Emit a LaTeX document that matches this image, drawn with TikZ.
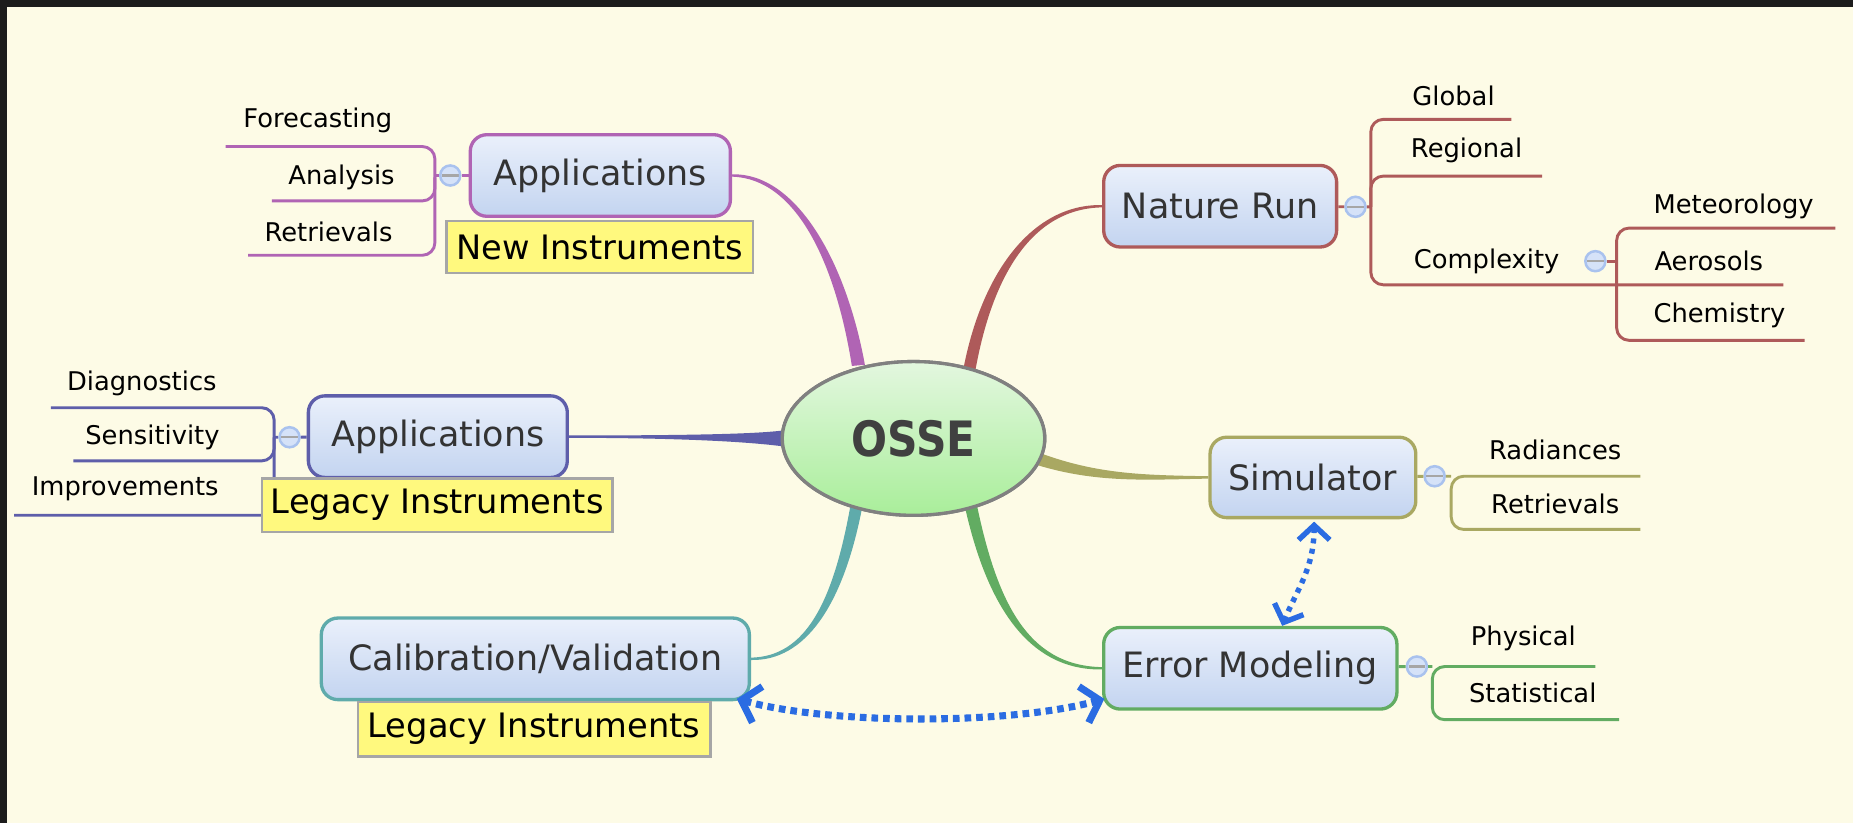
\documentclass[tikz,border=0pt]{standalone}
\usepackage{fontspec}
\usepackage{graphicx}
\setmainfont{DejaVu Sans}
\usetikzlibrary{calc,arrows.meta,shapes.geometric}
\definecolor{bg}{HTML}{FDFBE6}
\definecolor{darkframe}{HTML}{1C1C1C}
\definecolor{cpurple}{HTML}{B064B4}
\definecolor{cindigo}{HTML}{5E5EAA}
\definecolor{cred}{HTML}{AE5A5A}
\definecolor{colive}{HTML}{A9A862}
\definecolor{cgreen}{HTML}{62AC62}
\definecolor{cteal}{HTML}{5FABAB}
\definecolor{nodetop}{HTML}{EAF0FB}
\definecolor{nodebot}{HTML}{C3D4F0}
\definecolor{notefill}{HTML}{FFF97E}
\definecolor{arrowblue}{HTML}{2B6CE2}
\definecolor{circfill}{HTML}{D5E2F8}
\definecolor{circdraw}{HTML}{A9C2EE}
\definecolor{osetop}{HTML}{E3F7DF}
\definecolor{osebot}{HTML}{A9EE9A}
\tikzset{
  mnode/.style={rounded corners=4pt, top color=nodetop, bottom color=nodebot, line width=0.8pt,
    inner sep=0pt, font=\fontsize{8.4}{10}\selectfont, text=black!80},
  osseshape/.style={ellipse, minimum width=2.22cm, minimum height=1.30cm, inner sep=0pt, top color=osetop,
    bottom color=osebot, draw=black!50, line width=0.8pt, font=\fontsize{10.2}{12}\selectfont\bfseries, text=black!75},
  notebox/.style={fill=notefill, draw=black!35, line width=0.6pt, inner sep=0pt,
    font=\fontsize{8.1}{10}\selectfont},
  leaf/.style={font=\fontsize{6.2}{8}\selectfont, inner sep=0pt},
  fold/.style={circle, minimum size=0.17cm, inner sep=0pt, fill=circfill, draw=circdraw, line width=0.6pt,
    path picture={\draw[black!35, line width=0.5pt] ([xshift=-2pt]path picture bounding box.center) -- ([xshift=2pt]path picture bounding box.center);}},
  branch/.style={line width=0.7pt, rounded corners=3pt},
  foldlink/.style={line width=0.7pt},
  linksmall/.style={arrowblue, line width=1.3pt, dash pattern=on 1.2pt off 1.3pt,
    {Straight Barb[length=3.5pt,width=7.5pt]}-{Straight Barb[length=3.5pt,width=7.5pt]}},
  linkbig/.style={arrowblue, line width=1.7pt, dash pattern=on 1.6pt off 1.2pt,
    {Straight Barb[length=4pt,width=9pt]}-{Straight Barb[length=4pt,width=9pt]}}
}
\begin{document}
\begin{tikzpicture}[x=0.01cm, y=0.01cm]
\useasboundingbox (0,0) rectangle (1568,-696.4);
\fill[bg] (0,0) rectangle (1568,-696.4);
\fill[darkframe] (0,0) rectangle (1568,-6);
\fill[darkframe] (0,0) rectangle (6,-696.4);

% central node and main nodes
\node[osseshape] (osse) at (773,-371) {\scalebox{1}[1.15]{OSSE}};
\node[mnode, draw=cpurple, minimum width=2.2cm, minimum height=0.69cm] (app1) at (508,-148.5) {Applications};
\node[mnode, draw=cindigo, minimum width=2.19cm, minimum height=0.69cm] (app2) at (370.5,-369.5) {Applications};
\node[mnode, draw=cred, minimum width=1.97cm, minimum height=0.69cm] (nature) at (1032.5,-174.5) {Nature Run};
\node[mnode, draw=colive, minimum width=1.74cm, minimum height=0.68cm] (sim) at (1111,-404) {Simulator};
\node[mnode, draw=cgreen, minimum width=2.48cm, minimum height=0.69cm] (err) at (1058,-565.5) {Error Modeling};
\node[mnode, draw=cteal, minimum width=3.62cm, minimum height=0.69cm] (cal) at (453,-557.5) {Calibration/Validation};

% tapered connectors
\fill[cpurple] ($(app1.east)+(0,1)$) .. controls +(54,1.5) and +(-16,88) .. ($(osse.128)+(6,2)$)
  -- ($(osse.128)+(-5,1)$) .. controls +(-14,88) and +(54,-1.5) .. ($(app1.east)+(0,-1)$) -- cycle;
\fill[cred] ($(osse.52)+(5,-4)$) .. controls +(14.5,82) and +(-59,-1) .. ($(nature.west)+(0,-1)$)
  -- ($(nature.west)+(0,1)$) .. controls +(-59,1) and +(15.5,82) .. ($(osse.52)+(-5,-2)$) -- cycle;
\fill[cindigo] ($(app2.east)+(0,1)$) .. controls +(110,0) and +(-21,-3) .. ($(osse.180)+(4,7)$)
  -- ($(osse.180)+(4,-7)$) .. controls +(-21,3) and +(110,0) .. ($(app2.east)+(0,-1)$) -- cycle;
\fill[colive] ($(osse.351)+(-5,-5)$) .. controls +(50.5,-15.6) and +(-54,-1) .. ($(sim.west)+(0,-1)$)
  -- ($(sim.west)+(0,1)$) .. controls +(-54,1) and +(49.5,-18.4) .. ($(osse.351)+(-2,5)$) -- cycle;
\fill[cgreen] ($(osse.309)+(-5,2)$) .. controls +(17.9,-80.2) and +(-64,-1) .. ($(err.west)+(0,-1)$)
  -- ($(err.west)+(0,1)$) .. controls +(-64,1) and +(16.9,-80.4) .. ($(osse.309)+(5,4)$) -- cycle;
\fill[cteal] ($(osse.231)+(-5,2)$) .. controls +(-14.8,-81.4) and +(46,1) .. ($(cal.east)+(0,1)$)
  -- ($(cal.east)+(0,-1)$) .. controls +(46,-1) and +(-16,-82.2) .. ($(osse.231)+(5,1)$) -- cycle;

% redraw central node over connector ends
\node[osseshape] at (osse.center) {\scalebox{1}[1.15]{OSSE}};

% leaves
\node[leaf] (fore) at (269,-102) {Forecasting};
\node[leaf] (anal) at (289,-150) {Analysis};
\node[leaf] (retr1) at (278,-196) {Retrievals};
\node[leaf] (diag) at (120,-324) {Diagnostics};
\node[leaf] (sens) at (129,-370) {Sensitivity};
\node[leaf] (impr) at (106,-414) {Improvements};
\node[leaf] (glob) at (1230,-81) {Global};
\node[leaf] (regi) at (1241,-127) {Regional};
\node[leaf] (comp) at (1258,-221) {Complexity};
\node[leaf] (mete) at (1467,-175) {Meteorology};
\node[leaf] (aero) at (1446,-221) {Aerosols};
\node[leaf] (chem) at (1455,-267) {Chemistry};
\node[leaf] (radi) at (1316,-381) {Radiances};
\node[leaf] (retr2) at (1316,-426) {Retrievals};
\node[leaf] (phys) at (1289,-540) {Physical};
\node[leaf] (stat) at (1297,-586) {Statistical};

% bracket joints
\coordinate (k1) at (368,-148.5);
\coordinate (k2) at (232,-370);
\coordinate (k3) at (1160,-175);
\coordinate (k4) at (1368,-221);
\coordinate (k5) at (1228,-403);
\coordinate (k6) at (1212,-564);

% branch lines
\draw[branch, cpurple] (191,-124) -- (368,-124) -- (368,-216) -- (210,-216);
\draw[branch, cpurple] (230,-170) -- (368,-170) -- (368,-150);
\draw[branch, cindigo] (43,-345) -- (232,-345) -- (232,-436) -- (12,-436);
\draw[branch, cindigo] (62,-390) -- (232,-390) -- (232,-370);
\draw[branch, cred] (1279,-101) -- (1160,-101) -- (1160,-241) -- (1509,-241);
\draw[branch, cred] (1305,-149) -- (1160,-149) -- (1160,-175);
\draw[branch, cred] (1553,-193) -- (1368,-193) -- (1368,-288) -- (1527,-288);
\draw[branch, colive] (1388,-403) -- (1228,-403) -- (1228,-448) -- (1388,-448);
\draw[branch, cgreen] (1350,-564) -- (1212,-564) -- (1212,-609) -- (1370,-609);

% notes
\node[notebox, minimum width=2.59cm, minimum height=0.44cm] (new) at (507.5,-209) {New Instruments};
\node[notebox, minimum width=2.96cm, minimum height=0.45cm] (leg1) at (370,-427.5) {Legacy Instruments};
\node[notebox, minimum width=2.98cm, minimum height=0.46cm] (leg2) at (452,-617) {Legacy Instruments};

% fold circles
\node[fold] (f1) at (381,-148.5) {};
\node[fold] (f2) at (245,-370) {};
\node[fold] (f3) at (1147,-175) {};
\node[fold] (f4) at (1350,-221) {};
\node[fold] (f5) at (1214,-403) {};
\node[fold] (f6) at (1199,-564) {};
\draw[foldlink, cpurple] (k1) -- (f1) (f1) -- (app1);
\draw[foldlink, cindigo] (k2) -- (f2) (f2) -- (app2);
\draw[foldlink, cred] (k3) -- (f3) (f3) -- (nature);
\draw[foldlink, cred] (k4) -- (f4);
\draw[foldlink, colive] (k5) -- (f5) (f5) -- (sim);
\draw[foldlink, cgreen] (k6) -- (f6) (f6) -- (err);

% relationship arrows
\draw[linksmall] ($(sim.south)+(1,-2)$) .. controls +(0,-40) and +(12,30) .. ($(err.north)+(27,0)$);
\draw[linkbig] ($(cal.south east)+(-12,2)$) .. controls +(80,-22) and +(-80,-22) .. ($(err.south west)+(2,10)$);
\end{tikzpicture}
\end{document}
